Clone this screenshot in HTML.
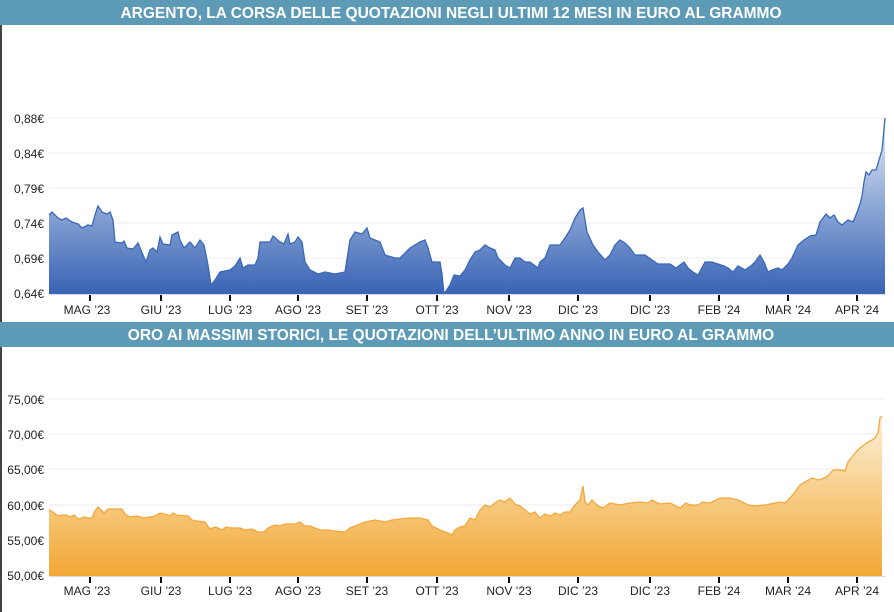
<!DOCTYPE html>
<html><head><meta charset="utf-8"><style>
body{margin:0;width:894px;height:612px;overflow:hidden;background:#fff;font-family:"Liberation Sans",sans-serif;}
svg{display:block}
</style></head><body>
<svg width="894" height="612" viewBox="0 0 894 612" xmlns="http://www.w3.org/2000/svg">
<defs>
<linearGradient id="gs" x1="0" y1="118" x2="0" y2="294" gradientUnits="userSpaceOnUse">
<stop offset="0" stop-color="#e6ecf6"/><stop offset="0.5" stop-color="#8da8d6"/><stop offset="1" stop-color="#3963b4"/></linearGradient>
<linearGradient id="gg" x1="0" y1="416" x2="0" y2="576" gradientUnits="userSpaceOnUse">
<stop offset="0" stop-color="#fdf1dc"/><stop offset="0.5" stop-color="#f7cc85"/><stop offset="1" stop-color="#f2a734"/></linearGradient>
</defs>
<rect x="0" y="0" width="2" height="612" fill="#444"/>
<rect x="0" y="0" width="894" height="25" fill="#5d9ab6"/>
<text x="451" y="18" text-anchor="middle" font-size="15.5" font-weight="bold" fill="#fff">ARGENTO, LA CORSA DELLE QUOTAZIONI NEGLI ULTIMI 12 MESI IN EURO AL GRAMMO</text>
<rect x="0" y="322" width="894" height="25" fill="#5d9ab6"/>
<text x="451" y="340" text-anchor="middle" font-size="15.5" font-weight="bold" fill="#fff">ORO AI MASSIMI STORICI, LE QUOTAZIONI DELL’ULTIMO ANNO IN EURO AL GRAMMO</text>
<g stroke="#ececec" stroke-width="1">
<line x1="49" x2="885" y1="118" y2="118"/><line x1="49" x2="885" y1="153" y2="153"/><line x1="49" x2="885" y1="188" y2="188"/><line x1="49" x2="885" y1="223" y2="223"/><line x1="49" x2="885" y1="258" y2="258"/>
<line x1="49" x2="885" y1="399" y2="399"/><line x1="49" x2="885" y1="434" y2="434"/><line x1="49" x2="885" y1="469" y2="469"/><line x1="49" x2="885" y1="505" y2="505"/><line x1="49" x2="885" y1="540" y2="540"/>
</g>
<g font-size="12" fill="#222" text-anchor="end">
<text x="44" y="123">0,88€</text><text x="44" y="158">0,84€</text><text x="44" y="193">0,79€</text><text x="44" y="228">0,74€</text><text x="44" y="263">0,69€</text><text x="44" y="298">0,64€</text>
<text x="44" y="404">75,00€</text><text x="44" y="439">70,00€</text><text x="44" y="474">65,00€</text><text x="44" y="510">60,00€</text><text x="44" y="545">55,00€</text><text x="44" y="580">50,00€</text>
</g>
<polygon fill="url(#gs)" points="49,294 49,215 52,212 58,218 62,220 66,218 72,222 78,224 82,228 88,225 92,226 95,215 98,206 102,212 107,214 110,212 113,220 115,242 122,243 124,241 127,248 133,249 138,243 143,255 146,262 150,250 153,248 157,252 160,237 163,244 170,245 172,235 178,232 180,240 184,248 190,242 195,248 200,240 204,245 208,265 211,285 215,280 220,272 230,270 235,266 240,258 243,268 248,265 255,265 258,258 260,242 270,242 273,236 280,242 284,244 288,234 290,244 295,242 298,237 302,242 305,262 310,270 318,274 325,272 335,274 345,272 350,240 355,232 362,234 367,228 370,238 380,242 385,255 395,258 400,258 410,248 420,242 425,240 428,248 432,262 440,262 442,274 444,294 450,285 454,275 460,276 465,270 470,260 475,252 480,250 485,245 490,248 495,250 498,258 505,265 510,268 515,258 520,258 525,262 530,262 538,268 540,262 545,258 550,245 560,245 565,238 570,230 575,218 580,210 583,208 587,232 593,245 598,252 605,260 610,255 615,245 620,240 625,243 630,248 635,255 645,255 658,264 670,264 676,268 680,265 684,262 688,268 693,272 698,275 705,262 712,262 718,264 724,266 728,268 733,272 738,266 745,270 752,265 755,262 760,255 764,262 768,272 772,270 778,268 782,270 788,264 792,258 798,245 804,240 810,236 816,235 820,222 826,214 830,218 834,215 838,222 842,225 848,220 853,222 856,215 860,204 862,196 864,182 866,172 869,175 872,170 876,170 879,160 882,150 883,140 885,118 885,294"/>
<polyline fill="none" stroke="#3a68b8" stroke-width="1.3" points="49,215 52,212 58,218 62,220 66,218 72,222 78,224 82,228 88,225 92,226 95,215 98,206 102,212 107,214 110,212 113,220 115,242 122,243 124,241 127,248 133,249 138,243 143,255 146,262 150,250 153,248 157,252 160,237 163,244 170,245 172,235 178,232 180,240 184,248 190,242 195,248 200,240 204,245 208,265 211,285 215,280 220,272 230,270 235,266 240,258 243,268 248,265 255,265 258,258 260,242 270,242 273,236 280,242 284,244 288,234 290,244 295,242 298,237 302,242 305,262 310,270 318,274 325,272 335,274 345,272 350,240 355,232 362,234 367,228 370,238 380,242 385,255 395,258 400,258 410,248 420,242 425,240 428,248 432,262 440,262 442,274 444,294 450,285 454,275 460,276 465,270 470,260 475,252 480,250 485,245 490,248 495,250 498,258 505,265 510,268 515,258 520,258 525,262 530,262 538,268 540,262 545,258 550,245 560,245 565,238 570,230 575,218 580,210 583,208 587,232 593,245 598,252 605,260 610,255 615,245 620,240 625,243 630,248 635,255 645,255 658,264 670,264 676,268 680,265 684,262 688,268 693,272 698,275 705,262 712,262 718,264 724,266 728,268 733,272 738,266 745,270 752,265 755,262 760,255 764,262 768,272 772,270 778,268 782,270 788,264 792,258 798,245 804,240 810,236 816,235 820,222 826,214 830,218 834,215 838,222 842,225 848,220 853,222 856,215 860,204 862,196 864,182 866,172 869,175 872,170 876,170 879,160 882,150 883,140 885,118"/>
<polygon fill="url(#gg)" points="49,576 49,510 53,512 58,516 62,515 66,515 70,517 74,515 77,518 80,519 84,517 88,518 92,518 95,511 98,507 101,510 104,513 108,509 115,509 122,509 125,514 130,517 138,516 143,518 150,517 155,516 160,513 165,514 170,516 173,513 176,515 188,516 192,520 197,521 205,522 210,529 215,527 218,528 222,530 226,527 232,528 240,528 245,530 252,529 258,532 264,532 268,528 275,525 280,526 285,524 290,524 295,524 300,522 305,526 310,526 315,528 320,530 328,530 335,531 345,532 350,528 355,526 365,522 375,520 385,522 392,520 400,519 410,518 420,518 428,520 432,526 440,530 448,533 452,535 455,530 460,527 465,526 470,518 475,520 480,510 485,505 490,507 495,503 500,500 505,502 510,498 515,504 520,506 525,510 530,514 535,512 540,518 545,514 550,516 555,513 560,515 565,512 570,512 575,505 580,500 583,486 585,502 588,505 592,500 598,506 603,508 610,503 620,505 630,503 640,502 648,503 652,500 660,504 670,503 680,508 686,503 690,505 698,505 703,502 710,503 720,498 730,498 738,500 742,502 748,505 755,506 765,505 775,503 780,502 785,503 790,498 795,492 800,485 805,482 812,478 818,480 822,479 828,476 833,470 840,470 845,471 848,462 852,457 856,452 860,448 864,445 868,442 872,440 875,438 878,433 880,418 882,416 882,576"/>
<polyline fill="none" stroke="#f2a83c" stroke-width="1.3" points="49,510 53,512 58,516 62,515 66,515 70,517 74,515 77,518 80,519 84,517 88,518 92,518 95,511 98,507 101,510 104,513 108,509 115,509 122,509 125,514 130,517 138,516 143,518 150,517 155,516 160,513 165,514 170,516 173,513 176,515 188,516 192,520 197,521 205,522 210,529 215,527 218,528 222,530 226,527 232,528 240,528 245,530 252,529 258,532 264,532 268,528 275,525 280,526 285,524 290,524 295,524 300,522 305,526 310,526 315,528 320,530 328,530 335,531 345,532 350,528 355,526 365,522 375,520 385,522 392,520 400,519 410,518 420,518 428,520 432,526 440,530 448,533 452,535 455,530 460,527 465,526 470,518 475,520 480,510 485,505 490,507 495,503 500,500 505,502 510,498 515,504 520,506 525,510 530,514 535,512 540,518 545,514 550,516 555,513 560,515 565,512 570,512 575,505 580,500 583,486 585,502 588,505 592,500 598,506 603,508 610,503 620,505 630,503 640,502 648,503 652,500 660,504 670,503 680,508 686,503 690,505 698,505 703,502 710,503 720,498 730,498 738,500 742,502 748,505 755,506 765,505 775,503 780,502 785,503 790,498 795,492 800,485 805,482 812,478 818,480 822,479 828,476 833,470 840,470 845,471 848,462 852,457 856,452 860,448 864,445 868,442 872,440 875,438 878,433 880,418 882,416"/>
<line x1="49" x2="886" y1="294.5" y2="294.5" stroke="#ddd"/>
<line x1="49" x2="886" y1="576.5" y2="576.5" stroke="#ddd"/>
<g stroke="#111" stroke-width="2">
<path d="M90 295v6M161 295v6M230 295v6M298 295v6M367 295v6M437 295v6M509 295v6M578 295v6M650 295v6M719 295v6M788 295v6M857 295v6"/>
<path d="M90 577v6M161 577v6M230 577v6M298 577v6M367 577v6M437 577v6M509 577v6M578 577v6M650 577v6M719 577v6M788 577v6M857 577v6"/>
</g>
<g font-size="12" fill="#222" text-anchor="middle">
<text x="87" y="314">MAG ’23</text><text x="161" y="314">GIU ’23</text><text x="230" y="314">LUG ’23</text><text x="298" y="314">AGO ’23</text><text x="367" y="314">SET ’23</text><text x="437" y="314">OTT ’23</text><text x="509" y="314">NOV ’23</text><text x="578" y="314">DIC ’23</text><text x="650" y="314">DIC ’23</text><text x="719" y="314">FEB ’24</text><text x="788" y="314">MAR ’24</text><text x="857" y="314">APR ’24</text>
<text x="87" y="595">MAG ’23</text><text x="161" y="595">GIU ’23</text><text x="230" y="595">LUG ’23</text><text x="298" y="595">AGO ’23</text><text x="367" y="595">SET ’23</text><text x="437" y="595">OTT ’23</text><text x="509" y="595">NOV ’23</text><text x="578" y="595">DIC ’23</text><text x="650" y="595">DIC ’23</text><text x="719" y="595">FEB ’24</text><text x="788" y="595">MAR ’24</text><text x="857" y="595">APR ’24</text>
</g>
</svg>
</body></html>
